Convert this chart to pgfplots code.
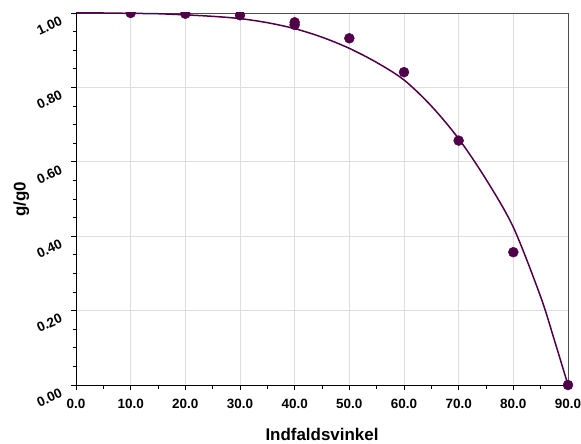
\documentclass[border=0pt]{standalone}
\usepackage{fontspec}
\setmainfont{Liberation Sans}
\usepackage{pgfplots}
\pgfplotsset{compat=1.18}
\definecolor{plum}{RGB}{80,0,72}
\definecolor{gridc}{RGB}{222,222,222}
\begin{document}
\begin{tikzpicture}
\pgfplotsset{
  common/.style={
    scale only axis,
    width=492bp, height=372bp,
    xmin=0, xmax=90, ymin=0, ymax=1,
  }
}
\begin{axis}[
  common,
  clip marker paths=true,
  axis line style={draw=black!70},
  xtick={0,10,...,90},
  ytick={0,0.2,0.4,0.6,0.8,1.0},
  minor x tick num=1,
  minor y tick num=3,
  xtick pos=bottom, ytick pos=left,
  tick align=outside,
  major tick length=5bp, minor tick length=3.5bp,
  tick style={black, line width=0.8bp},
  xmajorgrids, ymajorgrids,
  major grid style={gridc, line width=0.8bp},
  ticklabel style={font=\fontsize{13.5}{14}\selectfont\bfseries},
  /pgf/number format/assume math mode=true,
  xticklabel={\pgfmathprintnumber[fixed,fixed zerofill,precision=1]{\tick}},
  yticklabel={\pgfmathprintnumber[fixed,fixed zerofill,precision=2]{\tick}},
  xticklabel style={yshift=-6bp},
  yticklabel style={xshift=-10bp, yshift=2bp, rotate=25, anchor=north east},
  xlabel={Indfaldsvinkel},
  ylabel={g/g0},
  label style={font=\fontsize{17}{18}\selectfont\bfseries},
  xlabel style={at={(axis description cs:0.5,-0.148)}, anchor=base},
  ylabel style={at={(axis description cs:-0.111,0.5)}, anchor=center, rotate=0},
]
\addplot[plum, line width=1.5bp, smooth, no marks] coordinates {
(0,1.000) (5,1.000) (10,0.999) (15,0.998) (20,0.995) (25,0.991) (30,0.985)
(35,0.974) (40,0.958) (45,0.935) (50,0.905) (55,0.867) (60,0.820) (65,0.750)
(70,0.662) (75,0.553) (80,0.424) (85,0.237) (87.5,0.121) (90,0.000)
};
\addplot[only marks, mark=*, mark size=5bp, plum, mark options={fill=plum, draw=plum}] coordinates {
(10,1.000) (20,0.998) (30,0.994) (40,0.975) (40,0.968) (50,0.932) (60,0.841) (70,0.657) (80,0.357)
};
\draw[black, line width=0.9bp] (rel axis cs:0,1) -- (rel axis cs:0,0) -- (rel axis cs:1,0);
\coordinate (sw) at (rel axis cs:0,0);
\coordinate (ne) at (rel axis cs:1,1);
\end{axis}
\begin{axis}[common, hide axis, clip=false]
\addplot[only marks, mark=*, mark size=5bp, plum, mark options={fill=plum, draw=plum}] coordinates {(90,0)};
\end{axis}
\pgfresetboundingbox
\path[use as bounding box] ([shift={(-76bp,-58bp)}]sw) rectangle ([shift={(13bp,13bp)}]ne);
\end{tikzpicture}
\end{document}
